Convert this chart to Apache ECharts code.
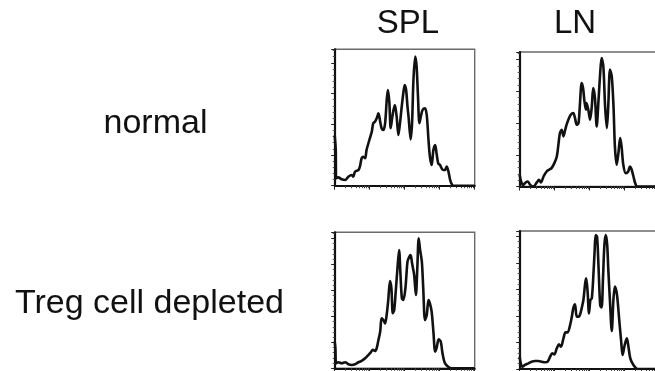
<!DOCTYPE html>
<html>
<head>
    <meta charset="utf-8">
    <script src="https://cdn.jsdelivr.net/npm/echarts@6/dist/echarts.min.js"></script>
    <style type="text/css">
        html, body { margin: 0; padding: 0; background: #fff; }
        #main { width: 655px; height: 371px; }
    </style>
</head>
<body>
    <div id="main"></div>
    <script>
        // column / row labels
        var columns = ['SPL', 'LN'];
        var rows = ['normal', 'Treg cell depleted'];

        // histograms: [log decade, events]
        var splNormal = [
            [0, 41], [0.03, 29], [0.04, 6], [0.10, 6.8], [0.20, 5.2], [0.30, 4.6], [0.39, 7.3],
            [0.49, 8.7], [0.53, 7.3], [0.58, 11.4], [0.68, 12.8], [0.72, 15.5], [0.77, 22.3],
            [0.82, 23.6], [0.87, 22.3], [0.91, 29], [0.99, 37.2], [1.06, 44], [1.10, 50.8],
            [1.15, 52.1], [1.20, 54.8], [1.25, 58.9], [1.30, 52.1], [1.34, 46.7], [1.39, 45.3],
            [1.44, 50.8], [1.49, 71.1], [1.52, 77.9], [1.56, 68.4], [1.60, 46.7], [1.64, 54.8],
            [1.68, 61.6], [1.72, 65.7], [1.77, 56.2], [1.82, 41.3], [1.87, 52.1], [1.91, 63],
            [1.96, 75.2], [2.00, 82], [2.04, 77.9], [2.08, 64.3], [2.11, 56.2], [2.17, 37.7],
            [2.21, 50.8], [2.25, 86], [2.30, 105], [2.34, 96.9], [2.38, 72.5], [2.42, 50.8],
            [2.46, 56.2], [2.51, 61.6], [2.58, 63], [2.63, 57.5], [2.68, 37.2], [2.72, 23.6],
            [2.77, 16.8], [2.82, 29], [2.87, 33.1], [2.91, 26.3], [2.96, 18], [3.01, 16.8],
            [3.09, 12.8], [3.15, 12.8], [3.20, 15.5], [3.25, 11.4], [3.30, 4.6], [3.34, 1.4],
            [3.39, 0], [4, 0]
        ];
        var lnNormal = [
            [0, 9.2], [0.04, 3.9], [0.10, 1.3], [0.17, 3.2], [0.23, 3.9], [0.30, 1.3], [0.39, 0],
            [0.49, 3.2], [0.55, 5.3], [0.61, 3.2], [0.68, 7.9], [0.77, 11.8], [0.84, 13.2],
            [0.91, 14.5], [0.99, 18.4], [1.06, 23.7], [1.10, 31.6], [1.15, 42.1], [1.20, 44.7],
            [1.25, 39.5], [1.30, 44.7], [1.34, 48.7], [1.39, 52.6], [1.46, 56.5], [1.53, 57.9],
            [1.58, 53.9], [1.63, 48.7], [1.68, 50], [1.72, 64.4], [1.77, 81.5], [1.81, 77.6],
            [1.85, 67.1], [1.89, 60.5], [1.91, 65.8], [1.96, 60.5], [2.01, 52.6], [2.06, 63.1],
            [2.10, 77.6], [2.15, 69.7], [2.20, 47.3], [2.25, 67.1], [2.30, 89.4], [2.34, 101.3],
            [2.39, 94.7], [2.44, 63.1], [2.49, 46], [2.53, 63.1], [2.58, 92.1], [2.63, 86.8],
            [2.68, 63.1], [2.72, 31.6], [2.77, 17.1], [2.82, 26.3], [2.87, 38.1], [2.91, 31.6],
            [2.96, 17.1], [3.03, 10.5], [3.10, 11.8], [3.15, 15.8], [3.20, 13.2], [3.25, 7.9],
            [3.30, 2.6], [3.36, 0], [4, 0]
        ];
        var splDepleted = [
            [0, 25.7], [0.02, 19.3], [0.04, 4.8], [0.10, 5.8], [0.20, 4.8], [0.30, 5.8], [0.39, 3.9],
            [0.49, 3.2], [0.58, 3.9], [0.68, 5.8], [0.77, 7.1], [0.87, 9.6], [0.96, 12.8],
            [1.03, 15.4], [1.09, 17.7], [1.15, 16.7], [1.20, 19.3], [1.25, 27.3], [1.30, 35.3],
            [1.34, 48.2], [1.39, 46.5], [1.44, 43.3], [1.49, 53], [1.53, 65.8], [1.58, 84.1],
            [1.62, 77], [1.66, 53], [1.70, 56.2], [1.74, 72.2], [1.80, 99.5], [1.84, 114],
            [1.88, 89.9], [1.92, 67.4], [1.96, 65.8], [2.02, 77], [2.08, 102.7], [2.13, 107.5],
            [2.17, 109.1], [2.21, 101.1], [2.27, 89.9], [2.32, 70.6], [2.36, 96.3], [2.40, 125.2],
            [2.44, 114], [2.49, 102.7], [2.53, 76.9], [2.58, 46.5], [2.63, 51.4], [2.68, 65.8],
            [2.72, 62.6], [2.77, 54.6], [2.82, 35.3], [2.87, 16.1], [2.91, 19.3], [2.97, 27.9],
            [3.03, 25.7], [3.08, 14.4], [3.15, 4.8], [3.25, 1.3], [3.34, 0], [4, 0]
        ];
        var lnDepleted = [
            [0, 11.6], [0.03, 5.3], [0.08, 2.2], [0.15, 3.8], [0.25, 5.3], [0.34, 6.9], [0.44, 7.5],
            [0.53, 7.5], [0.63, 6.9], [0.72, 6.3], [0.80, 6.9], [0.87, 11.6], [0.93, 14.8],
            [0.99, 13.8], [1.06, 19.5], [1.12, 23.2], [1.18, 21], [1.25, 28.9], [1.31, 34.5],
            [1.37, 34.5], [1.44, 41.4], [1.49, 49.3], [1.53, 57.1], [1.58, 60.9], [1.63, 49.3],
            [1.68, 49.3], [1.72, 50.9], [1.77, 57.1], [1.82, 65], [1.87, 80.7], [1.90, 85.4],
            [1.94, 72.8], [1.98, 52.4], [2.02, 65], [2.06, 66.6], [2.10, 85.4], [2.14, 110.5],
            [2.17, 126.2], [2.21, 124.7], [2.25, 98], [2.30, 60], [2.34, 58], [2.38, 85.4],
            [2.42, 116.8], [2.46, 126.2], [2.50, 116.8], [2.53, 94.8], [2.58, 63.4], [2.63, 35.8],
            [2.68, 66.6], [2.72, 77.6], [2.78, 69.7], [2.84, 47.7], [2.90, 25.7], [2.94, 13.2],
            [3.00, 22.6], [3.06, 28.9], [3.10, 22.6], [3.16, 10], [3.25, 3.8], [3.37, 0], [4, 0]
        ];

        var panelData = [splNormal, lnNormal, splDepleted, lnDepleted];
        var panelYMax = [111, 106, 131, 130];
        var panelGrid = [
            { left: 334.7, top: 49.3, width: 140, height: 136.4 },
            { left: 519.7, top: 52, width: 140, height: 134.5 },
            { left: 334.7, top: 232.3, width: 140, height: 136 },
            { left: 519.7, top: 231, width: 140, height: 138 }
        ];

        // log minor ticks inside each decade
        var minorTicks = [];
        for (var d = 0; d < 4; d++) {
            for (var k = 2; k <= 9; k++) minorTicks.push(d + Math.log10(k));
        }

        var myChart = echarts.init(document.getElementById('main'), null, { renderer: 'canvas' });
        var font = '"Liberation Sans", Arial, sans-serif';

        var grid = [], xAxis = [], yAxis = [], series = [];
        for (var i = 0; i < 4; i++) {
            var g = panelGrid[i];
            grid.push({
                left: g.left, top: g.top, width: g.width, height: g.height,
                outerBoundsMode: 'none', containLabel: false,
                show: true, borderColor: '#6a6a6a', borderWidth: 1.4
            });
            xAxis.push({
                type: 'value', gridIndex: i, min: 0, max: 4, interval: 1,
                axisLine: { onZero: false, lineStyle: { color: '#111', width: 2.2 } },
                axisTick: { show: true, length: 4, lineStyle: { color: '#222', width: 1 } },
                axisLabel: { show: false }, splitLine: { show: false }
            });
            xAxis.push({
                type: 'value', gridIndex: i, min: 0, max: 4, position: 'bottom',
                axisLine: { show: false },
                axisTick: { show: true, length: 2.5, customValues: minorTicks, lineStyle: { color: '#444', width: 1 } },
                axisLabel: { show: false }, splitLine: { show: false }
            });
            yAxis.push({
                type: 'value', gridIndex: i, min: 0, max: panelYMax[i], interval: 25,
                axisLine: { show: true, onZero: false, lineStyle: { color: '#111', width: 2.2 } },
                axisTick: { show: true, length: 3.5, lineStyle: { color: '#222', width: 1 } },
                minorTick: { show: true, splitNumber: 5, length: 2, lineStyle: { color: '#555', width: 1 } },
                axisLabel: { show: false }, splitLine: { show: false }
            });
            series.push({
                type: 'line', xAxisIndex: i * 2, yAxisIndex: i,
                data: panelData[i], showSymbol: false, smooth: 0.3,
                lineStyle: { color: '#111', width: 2.6 },
                animation: false
            });
        }

        var option = {
            backgroundColor: '#fff',
            animation: false,
            grid: grid,
            xAxis: xAxis,
            yAxis: yAxis,
            series: series,
            graphic: [
                { type: 'text', x: 408, y: 24, style: { text: columns[0], font: '33px ' + font, fill: '#111', align: 'center', verticalAlign: 'middle' } },
                { type: 'text', x: 575, y: 24, style: { text: columns[1], font: '33px ' + font, fill: '#111', align: 'center', verticalAlign: 'middle' } },
                { type: 'text', x: 155.5, y: 124, style: { text: rows[0], font: '34px ' + font, fill: '#111', align: 'center', verticalAlign: 'middle' } },
                { type: 'text', x: 149.5, y: 304, style: { text: rows[1], font: '34px ' + font, fill: '#111', align: 'center', verticalAlign: 'middle' } }
            ]
        };
        myChart.setOption(option);
    </script>
</body>
</html>
